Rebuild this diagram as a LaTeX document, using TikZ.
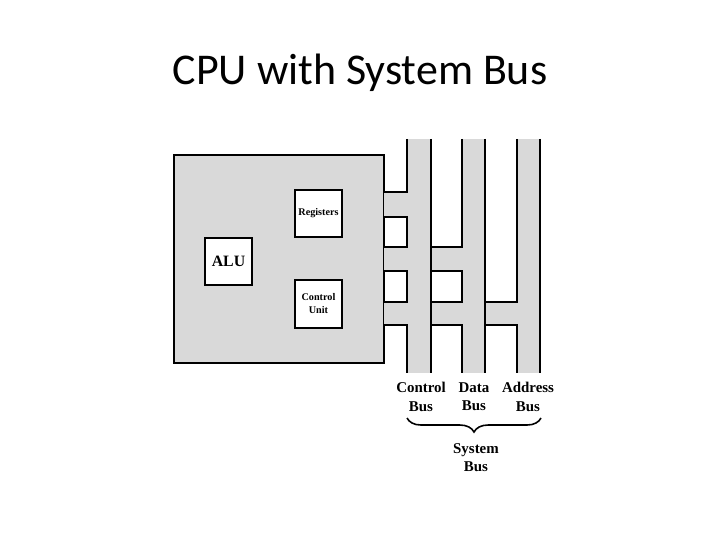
\documentclass[tikz,border=0pt]{standalone}
\usepackage{fontspec}
\setmainfont{Liberation Serif}
\newfontfamily\titlefont{Carlito}
\usepackage{xcolor}
\usetikzlibrary{positioning, calc, decorations.pathreplacing}
\definecolor{busgray}{RGB}{217, 217, 217}
\tikzset{
    cpubox/.style={
        draw, line width=1.3pt, fill=busgray, minimum width=4.2cm, minimum height=4.16cm, inner sep=0pt
    },
    unitbox/.style={
        draw, line width=1.1pt, fill=white, minimum size=0.94cm, inner sep=0pt, align=center
    },
    busline/.style={
        line width=1.3pt, line join=miter
    },
    buslabel/.style={
        font=\fontsize{8.5}{10.4}\selectfont\bfseries, align=center
    }
}

\begin{document}
\begin{tikzpicture}[x=0.02cm, y=-0.02cm]
    \useasboundingbox (0,0) rectangle (720,540);

    % --- TITLE ---
    \node[font=\titlefont\fontsize{25}{30}\selectfont, anchor=base] (title) at (360,85) {CPU with System Bus};

    % --- CPU ---
    \node[cpubox] (cpu) at (279,259) {};
    \node[unitbox, font=\fontsize{5.8}{6.8}\selectfont\bfseries] (regs) at (318.5,213.5) {Registers};
    \node[unitbox, font=\fontsize{9}{10}\selectfont\bfseries] (alu) at (228.5,261.5) {ALU};
    \node[unitbox, font=\fontsize{5.8}{7.4}\selectfont\bfseries, minimum height=0.96cm] (cu) at (318.5,304) {Control\\Unit};

    % --- BUS FILL ---
    \fill[busgray] (407,139) rectangle (431,373);
    \fill[busgray] (462,139) rectangle (485,373);
    \fill[busgray] (517,139) rectangle (540,373);
    \fill[busgray] (384,192) rectangle (407,217);
    \fill[busgray] (384,247) rectangle (462,271);
    \fill[busgray] (384,302) rectangle (517,325);

    % --- BUS OUTLINES ---
    % control bus
    \draw[busline] (407,139) -- (407,192) -- (384,192);
    \draw[busline] (384,217) -- (407,217) -- (407,247) -- (384,247);
    \draw[busline] (384,271) -- (407,271) -- (407,302) -- (384,302);
    \draw[busline] (384,325) -- (407,325) -- (407,373);
    % data bus
    \draw[busline] (462,139) -- (462,247) -- (431,247);
    \draw[busline] (431,271) -- (462,271) -- (462,302) -- (431,302);
    \draw[busline] (431,325) -- (462,325) -- (462,373);
    % address bus
    \draw[busline] (517,139) -- (517,302) -- (485,302);
    \draw[busline] (485,325) -- (517,325) -- (517,373);
    % right edges
    \foreach \x in {431, 485, 540}
        \draw[busline] (\x,139) -- (\x,373);

    % --- LABELS ---
    \node[buslabel] (lblCtrl) at (421,397) {Control\\Bus};
    \node[buslabel] (lblData) at (474,397) {Data\\Bus};
    \node[buslabel] (lblAddr) at (528,397) {Address\\Bus};

    \coordinate (braceL) at (407,418);
    \coordinate (braceR) at (541,418);
    \draw[line width=0.9pt, decorate, decoration={brace, mirror, amplitude=8pt}] (braceL) -- (braceR);
    \node[buslabel] (lblSys) at (476,458) {System\\Bus};

\end{tikzpicture}
\end{document}
